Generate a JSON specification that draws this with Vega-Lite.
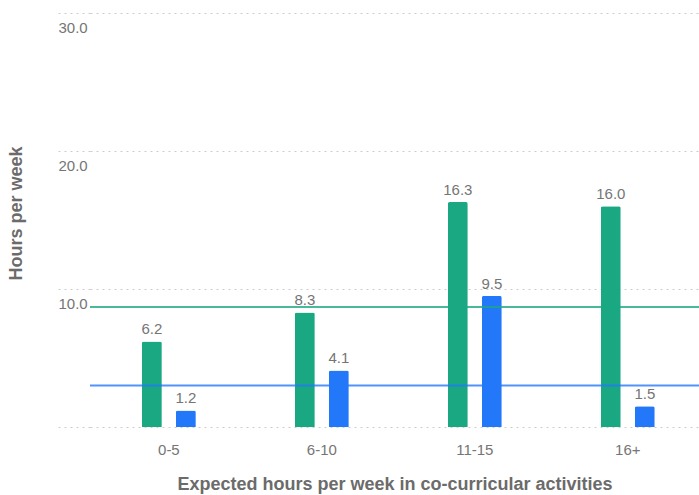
{
  "$schema": "https://vega.github.io/schema/vega-lite/v6.json",
  "width": 609,
  "height": 414,
  "autosize": {"type": "none"},
  "padding": {"left": 90, "top": 13, "right": 0, "bottom": 68},
  "config": {
    "view": {"stroke": null},
    "font": "Liberation Sans",
    "background": "white"
  },
  "layer": [
    {
      "data": {
        "values": [
          {"group": "0-5", "series": "A", "hours": 6.2},
          {"group": "0-5", "series": "B", "hours": 1.2},
          {"group": "6-10", "series": "A", "hours": 8.3},
          {"group": "6-10", "series": "B", "hours": 4.1},
          {"group": "11-15", "series": "A", "hours": 16.3},
          {"group": "11-15", "series": "B", "hours": 9.5},
          {"group": "16+", "series": "A", "hours": 16.0},
          {"group": "16+", "series": "B", "hours": 1.5}
        ]
      },
      "encoding": {
        "x": {
          "field": "group",
          "type": "nominal",
          "sort": ["0-5", "6-10", "11-15", "16+"],
          "scale": {"paddingInner": 0.647, "paddingOuter": 0.314, "align": 0.54},
          "axis": {
            "orient": "bottom",
            "ticks": false,
            "domain": false,
            "grid": false,
            "labelAngle": 0,
            "labelPadding": 15,
            "labelFontSize": 15,
            "labelColor": "#757575",
            "title": "Expected hours per week in co-curricular activities",
            "titleFontSize": 18,
            "titleFontWeight": "bold",
            "titleColor": "#6b6b6b",
            "titleBaseline": "alphabetic",
            "titleY": 62
          }
        },
        "xOffset": {
          "field": "series",
          "type": "nominal",
          "scale": {"paddingInner": 0.4118, "paddingOuter": 0}
        },
        "y": {
          "field": "hours",
          "type": "quantitative",
          "scale": {"domain": [0, 30], "nice": false},
          "axis": {
            "values": [0, 10, 20, 30],
            "grid": true,
            "gridDash": [2, 4],
            "gridColor": "#cccccc",
            "gridWidth": 1,
            "ticks": true,
            "tickSize": 32,
            "tickDash": [2, 4],
            "tickColor": "#cccccc",
            "domain": false,
            "labelAlign": "left",
            "labelBaseline": "top",
            "labelPadding": 0,
            "labelOffset": 7,
            "labelFontSize": 15,
            "labelColor": "#757575",
            "labelExpr": "datum.value == 0 ? '' : format(datum.value, '.1f')",
            "title": "Hours per week",
            "titleFontSize": 18,
            "titleFontWeight": "bold",
            "titleColor": "#6b6b6b",
            "titleAngle": -90,
            "titleBaseline": "middle",
            "titleAlign": "center",
            "titleX": -74,
            "titleY": 200
          }
        }
      },
      "layer": [
        {
          "mark": {"type": "bar", "cornerRadiusTopLeft": 2, "cornerRadiusTopRight": 2},
          "encoding": {
            "color": {
              "field": "series",
              "type": "nominal",
              "scale": {"domain": ["A", "B"], "range": ["#1aa882", "#2378fa"]},
              "legend": null
            }
          }
        },
        {
          "mark": {"type": "text", "baseline": "bottom", "dy": -4, "fontSize": 15, "color": "#757575"},
          "encoding": {
            "text": {"field": "hours", "type": "quantitative", "format": ".1f"}
          }
        }
      ]
    },
    {
      "data": {
        "values": [
          {"series": "A", "avg": 8.7},
          {"series": "B", "avg": 3.0}
        ]
      },
      "mark": {"type": "rule", "strokeWidth": 2, "opacity": 0.8},
      "encoding": {
        "y": {"field": "avg", "type": "quantitative"},
        "color": {"field": "series", "type": "nominal", "legend": null}
      }
    }
  ]
}
